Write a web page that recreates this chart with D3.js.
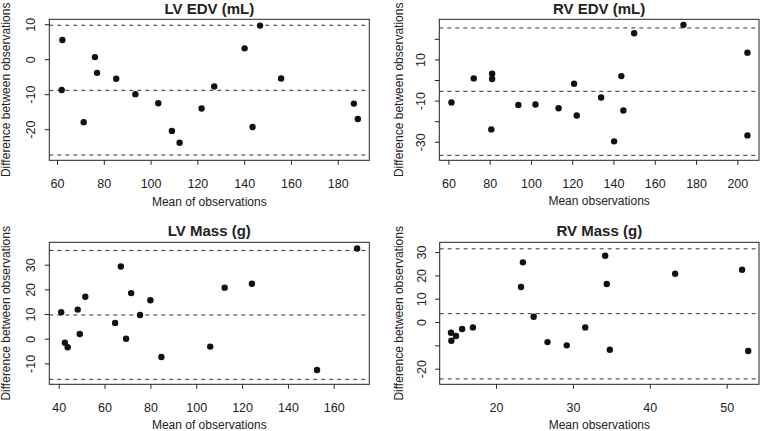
<!DOCTYPE html>
<html><head><meta charset="utf-8">
<script src="https://cdn.jsdelivr.net/npm/d3@7"></script>
<style>
html,body{margin:0;padding:0;background:#fff;}
svg{display:block;font-family:"Liberation Sans",Arial,Helvetica,sans-serif;}
</style></head>
<body>
<svg id="c" width="760" height="431"></svg>
<script>
// ---- data ----
const titles = ["LV EDV (mL)", "RV EDV (mL)", "LV Mass (g)", "RV Mass (g)"];
const xLabels = ["Mean of observations", "Mean observations", "Mean of observations", "Mean observations"];
const yLabel = "Difference between observations";

const lvEdvMean = [62.3,62.0,71.4,76.2,77.1,85.3,93.5,103.3,109.1,112.4,121.8,127.2,140.2,143.6,146.8,155.8,186.9,188.6];
const lvEdvDiff = [5.5,-8.8,-18.0,0.6,-3.9,-5.6,-10.0,-12.6,-20.5,-23.9,-14.1,-7.8,3.1,-19.4,9.6,-5.5,-12.7,-17.1];
const lvEdvLines = [9.7,-8.9,-27.4];

const rvEdvMean = [61.5,72.3,81.2,81.2,80.8,93.9,102.2,113.4,120.9,122.2,134.0,140.3,143.8,144.8,150.0,173.9,204.9,204.9];
const rvEdvDiff = [-10.9,0.8,3.1,0.5,-24.0,-12.1,-11.9,-13.7,-1.8,-17.2,-8.5,-29.8,1.9,-14.8,22.7,26.8,13.3,-26.9];
const rvEdvLines = [25.3,-5.5,-36.6];

const lvMassMean = [41.1,42.7,43.9,48.3,49.2,51.6,64.6,67.1,69.4,71.6,75.5,80.0,84.8,106.1,112.4,124.3,152.7,170.2];
const lvMassDiff = [10.7,-1.6,-3.5,11.8,1.9,17.0,6.4,29.3,0.0,18.5,9.6,15.6,-7.4,-3.2,20.7,22.3,-12.7,36.6];
const lvMassLines = [35.8,9.6,-16.5];

const rvMassMean = [14.15,14.2,14.8,15.6,17.0,23.25,23.5,24.9,26.7,29.2,31.6,34.2,34.4,34.8,43.3,52.0,52.8];
const rvMassDiff = [-4.6,-8.0,-6.0,-3.0,-2.3,15.0,25.6,2.3,-8.6,-10.0,-2.3,28.4,16.3,-11.9,20.7,22.4,-12.4];
const rvMassLines = [31.4,3.6,-24.4];

const xTicks = [[60,80,100,120,140,160,180],[60,80,100,120,140,160,180,200],[40,60,80,100,120,140,160],[20,30,40,50]];
const yTicks = [[10,0,-10,-20],[20,10,0,-10,-20,-30],[30,20,10,0,-10],[30,20,10,0,-10,-20]];
const yTickShown = [[10,0,-10,-20],[10,-10,-30],[30,20,10,0,-10],[30,20,10,0,-20]];
const xDomains = [[56.7,193.5],[55.6,210.5],[35.9,175.5],[12.68,54.2]];
const yDomains = [[-28.9,11.4],[-39.0,29.5],[-18.5,39.1],[-26.7,34.2]];

// ---- layout ----
const boxes = [
  {x0:49.3,x1:369.3,y0:19.3,y1:160.3,titleY:13.5,xLabY:205.5,yLabX:10},
  {x0:439.3,x1:759,y0:19.3,y1:160.3,titleY:13.5,xLabY:205,yLabX:403},
  {x0:49.3,x1:369.3,y0:242.3,y1:384.3,titleY:235.5,xLabY:428.5,yLabX:10},
  {x0:439.7,x1:759,y0:242.3,y1:384.3,titleY:235.5,xLabY:428.5,yLabX:403}
];
const means = [lvEdvMean,rvEdvMean,lvMassMean,rvMassMean];
const diffs = [lvEdvDiff,rvEdvDiff,lvMassDiff,rvMassDiff];
const lines = [lvEdvLines,rvEdvLines,lvMassLines,rvMassLines];

const svg = d3.select("#c");
const ink = "#222";

boxes.forEach((b,i)=>{
  const x = d3.scaleLinear().domain(xDomains[i]).range([b.x0,b.x1]);
  const y = d3.scaleLinear().domain(yDomains[i]).range([b.y1,b.y0]);
  const g = svg.append("g");

  // x axis
  const xa = g.append("g").attr("transform",`translate(0,${b.y1})`)
    .call(d3.axisBottom(x).tickValues(xTicks[i]).tickSize(4.5).tickFormat(d3.format("d")));
  xa.select(".domain").remove();
  xa.selectAll("line").attr("stroke",ink);
  xa.selectAll("text").attr("font-size","12.5px").attr("fill",ink).attr("dy","0").attr("y",28);

  // y axis (rotated labels)
  const ya = g.append("g").attr("transform",`translate(${b.x0},0)`)
    .call(d3.axisLeft(y).tickValues(yTicks[i]).tickSize(4.5)
      .tickFormat(d=> yTickShown[i].includes(d) ? String(d) : ""));
  ya.select(".domain").remove();
  ya.selectAll("line").attr("stroke",ink);
  ya.selectAll("text").attr("font-size","12.5px").attr("fill",ink)
    .attr("x",null).attr("dy",null)
    .attr("text-anchor","middle")
    .attr("transform","translate(-14,0) rotate(-90)");

  // dashed lines
  g.selectAll("line.ref").data(lines[i]).join("line").attr("class","ref")
    .attr("x1",b.x0).attr("x2",b.x1)
    .attr("y1",d=>y(d)).attr("y2",d=>y(d))
    .attr("stroke","#333").attr("stroke-width",1).attr("stroke-dasharray","4,4");

  // box
  g.append("rect").attr("x",b.x0).attr("y",b.y0).attr("width",b.x1-b.x0).attr("height",b.y1-b.y0)
    .attr("fill","none").attr("stroke",ink).attr("stroke-width",1);

  // points
  g.selectAll("circle").data(means[i].map((m,k)=>[m,diffs[i][k]])).join("circle")
    .attr("cx",d=>x(d[0])).attr("cy",d=>y(d[1])).attr("r",3.2).attr("fill","#111");

  // title
  g.append("text").attr("x",(b.x0+b.x1)/2).attr("y",b.titleY).attr("text-anchor","middle")
    .attr("font-size","15px").attr("font-weight","bold").attr("fill",ink).text(titles[i]);
  // x label
  g.append("text").attr("x",(b.x0+b.x1)/2).attr("y",b.xLabY).attr("text-anchor","middle")
    .attr("font-size","12px").attr("fill",ink).text(xLabels[i]);
  // y label
  g.append("text").attr("transform",`translate(${b.yLabX},${(b.y0+b.y1)/2}) rotate(-90)`)
    .attr("text-anchor","middle").attr("font-size","12px").attr("fill",ink).text(yLabel);
});
</script>
</body></html>
